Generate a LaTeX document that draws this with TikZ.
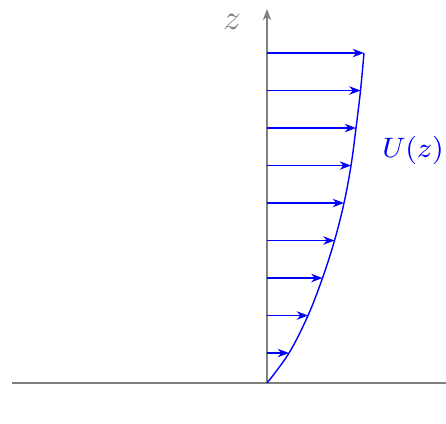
\documentclass[tikz,border=0pt]{standalone}
\usepackage{amsmath}
\usepackage{tikz}
\usetikzlibrary{arrows.meta}

\begin{document}
\begin{tikzpicture}[>={Stealth[length=3.2pt,width=2.4pt,inset=1pt]}, scale=1.0,
    axisline/.style={draw=gray, line width=0.45pt},
    windarrow/.style={->, draw=blue, line width=0.4pt}]
  \useasboundingbox (-2.67,-0.40) rectangle (1.79,3.83);
  % ground and height axis
  \coordinate (gl) at (-2.55,0);
  \coordinate (gr) at (1.79,0);
  \coordinate (o) at (0,0);
  \coordinate (top) at (0,3.74);
  \draw[axisline] (gl) -- (gr);
  \draw[axisline,->] (o) -- (top);
  \node[text=gray] (zlab) at (-0.35,3.61) {$z$};
  % velocity arrows up the profile
  \foreach \k/\u in {0/0.22, 1/0.41, 2/0.555, 3/0.675, 4/0.77,
                     5/0.84, 6/0.89, 7/0.935, 8/0.97} {
    \coordinate (a\k) at (0,0.30+0.375*\k);
    \coordinate (b\k) at (\u,0.30+0.375*\k);
    \draw[windarrow] (a\k) -- (b\k);
  }
  % profile curve
  \draw[blue, line width=0.4pt] plot[smooth, tension=0.6] coordinates
    {(0,0) (0.22,0.30) (0.41,0.675) (0.555,1.05) (0.675,1.425)
     (0.77,1.80) (0.84,2.175) (0.89,2.55) (0.935,2.925) (0.97,3.30)};
  \node[text=blue, anchor=east, inner sep=0pt, font=\fontsize{8.5}{10}\selectfont]
    (ulab) at (1.775,2.33) {$U(z)$};
\end{tikzpicture}
\end{document}
